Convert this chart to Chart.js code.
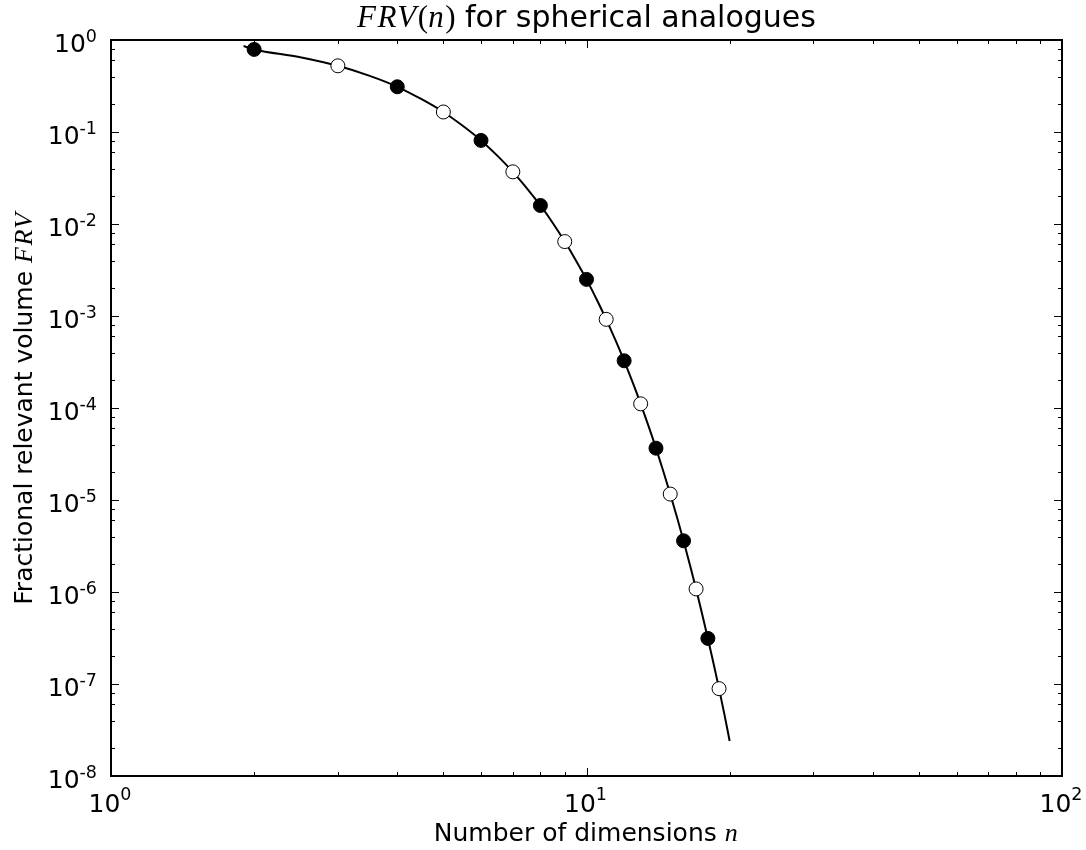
<!DOCTYPE html>
<html>
<head>
<meta charset="utf-8">
<script src="https://cdn.jsdelivr.net/npm/chart.js@4.4.1/dist/chart.umd.min.js"></script>
<style>
  html, body { margin: 0; padding: 0; background: #ffffff; }
  #wrap { width: 1086px; height: 850px; }
</style>
</head>
<body>
<div id="wrap"><canvas id="c" width="1086" height="850"></canvas></div>
<script>
// ---- data ----
const nEven = [2, 4, 6, 8, 10, 12, 14, 16, 18];
const frvEven = [0.79, 0.31, 0.081, 0.0159, 0.0025, 0.000326, 3.66e-5, 3.6e-6, 3.13e-7];

const nOdd = [3, 5, 7, 9, 11, 13, 15, 17, 19];
const frvOdd = [0.524, 0.165, 0.0369, 0.00644, 0.00092, 0.000111, 1.16e-5, 1.08e-6, 8.9e-8];

const nCurve = [1.9, 2, 2.5, 3, 3.5, 4, 4.5, 5, 5.5, 6, 6.5, 7, 7.5, 8, 8.5, 9, 9.5, 10,
                10.5, 11, 11.5, 12, 12.5, 13, 13.5, 14, 14.5, 15, 15.5, 16, 16.5, 17,
                17.5, 18, 18.5, 19, 19.5, 20];
const frvCurve = [0.86, 0.79, 0.651, 0.524, 0.407, 0.31, 0.227, 0.165, 0.116, 0.081,
                  0.055, 0.0369, 0.0243, 0.0159, 0.0102, 0.00644, 0.00402, 0.0025,
                  0.00152, 0.00092, 0.000549, 0.000326, 0.000191, 0.000111, 6.39e-5,
                  3.66e-5, 2.07e-5, 1.16e-5, 6.48e-6, 3.6e-6, 1.97e-6, 1.08e-6,
                  5.81e-7, 3.13e-7, 1.67e-7, 8.9e-8, 4.68e-8, 2.4e-8];

const xTickExps = [0, 1, 2];
const yTickExps = [0, -1, -2, -3, -4, -5, -6, -7, -8];
const xMinorSubs = [2, 3, 4, 5, 6, 7, 8, 9];
const yMinorSubs = [2, 4, 6, 8];

const titleParts = [
  { t: 'FRV', math: true },
  { t: '(', math: false, serif: true },
  { t: 'n', math: true },
  { t: ')', math: false, serif: true },
  { t: ' for spherical analogues', math: false }
];
const xLabelParts = [{ t: 'Number of dimensions ', math: false }, { t: 'n', math: true }];
const yLabelParts = [{ t: 'Fractional relevant volume ', math: false }, { t: 'FRV', math: true }];

// ---- helpers ----
const SANS = '"DejaVu Sans", "Bitstream Vera Sans", sans-serif';
const SERIF = '"Liberation Serif", "DejaVu Serif", serif';

function partFont(p, size) {
  if (p.math) return 'italic ' + Math.round(size * 1.04) + 'px ' + SERIF;
  if (p.serif) return Math.round(size * 1.04) + 'px ' + SERIF;
  return size + 'px ' + SANS;
}
function measureParts(ctx, parts, size) {
  let w = 0;
  for (const p of parts) {
    ctx.font = partFont(p, size);
    ctx.letterSpacing = p.math ? '1.5px' : '0px';
    w += ctx.measureText(p.t).width;
  }
  ctx.letterSpacing = '0px';
  return w;
}
function drawParts(ctx, parts, size, cx, baseline) {
  const total = measureParts(ctx, parts, size);
  let x = cx - total / 2;
  ctx.textAlign = 'left';
  ctx.textBaseline = 'alphabetic';
  for (const p of parts) {
    ctx.font = partFont(p, size);
    ctx.letterSpacing = p.math ? '1.5px' : '0px';
    ctx.fillText(p.t, x, baseline);
    x += ctx.measureText(p.t).width;
  }
  ctx.letterSpacing = '0px';
}
function supText(e) { return String(e); }

const framePlugin = {
  id: 'mplFrame',
  afterDatasetsDraw(chart) {
    const ctx = chart.ctx;
    const xs = chart.scales.x, ys = chart.scales.y;
    const a = chart.chartArea;
    ctx.save();
    ctx.strokeStyle = '#000';
    // ticks (inside, all four sides)
    ctx.lineWidth = 1;
    const majorLen = 8, minorLen = 4;
    ctx.beginPath();
    const xDecades = xTickExps.slice(0, -1);
    for (const e of xTickExps) {
      const px = Math.round(xs.getPixelForValue(Math.pow(10, e))) + 0.5;
      ctx.moveTo(px, a.bottom); ctx.lineTo(px, a.bottom - majorLen);
      ctx.moveTo(px, a.top); ctx.lineTo(px, a.top + majorLen);
    }
    for (const e of xDecades) {
      for (const s of xMinorSubs) {
        const px = Math.round(xs.getPixelForValue(s * Math.pow(10, e))) + 0.5;
        ctx.moveTo(px, a.bottom); ctx.lineTo(px, a.bottom - minorLen);
        ctx.moveTo(px, a.top); ctx.lineTo(px, a.top + minorLen);
      }
    }
    for (const e of yTickExps) {
      const py = Math.round(ys.getPixelForValue(Math.pow(10, e))) + 0.5;
      ctx.moveTo(a.left, py); ctx.lineTo(a.left + majorLen, py);
      ctx.moveTo(a.right, py); ctx.lineTo(a.right - majorLen, py);
    }
    for (const e of yTickExps.slice(1)) {
      for (const s of yMinorSubs) {
        const py = Math.round(ys.getPixelForValue(s * Math.pow(10, e))) + 0.5;
        ctx.moveTo(a.left, py); ctx.lineTo(a.left + minorLen, py);
        ctx.moveTo(a.right, py); ctx.lineTo(a.right - minorLen, py);
      }
    }
    ctx.stroke();
    // frame
    ctx.lineWidth = 2;
    ctx.strokeRect(a.left, a.top, a.right - a.left, a.bottom - a.top);

    // tick labels
    ctx.fillStyle = '#000';
    const mainSize = 25, supSize = 17.5;
    ctx.textBaseline = 'alphabetic';
    ctx.textAlign = 'left';
    for (const e of yTickExps) {
      const py = ys.getPixelForValue(Math.pow(10, e));
      ctx.font = mainSize + 'px ' + SANS;
      const w10 = ctx.measureText('10').width;
      ctx.font = supSize + 'px ' + SANS;
      const ws = ctx.measureText(supText(e)).width;
      const right = a.left - 14;
      ctx.font = mainSize + 'px ' + SANS;
      ctx.fillText('10', right - ws - w10, py + 12);
      ctx.font = supSize + 'px ' + SANS;
      ctx.fillText(supText(e), right - ws, py + 2);
    }
    for (const e of xTickExps) {
      const px = xs.getPixelForValue(Math.pow(10, e));
      ctx.font = mainSize + 'px ' + SANS;
      const w10 = ctx.measureText('10').width;
      ctx.font = supSize + 'px ' + SANS;
      const ws = ctx.measureText(supText(e)).width;
      const left = px - (w10 + ws) / 2 - 1;
      ctx.font = mainSize + 'px ' + SANS;
      ctx.fillText('10', left, a.bottom + 36);
      ctx.font = supSize + 'px ' + SANS;
      ctx.fillText(supText(e), left + w10, a.bottom + 24);
    }

    // title
    const cx = (a.left + a.right) / 2;
    drawParts(ctx, titleParts, 30, cx, 27);
    // x label
    drawParts(ctx, xLabelParts, 25, cx, a.bottom + 65);
    // y label
    ctx.save();
    ctx.translate(32, (a.top + a.bottom) / 2);
    ctx.rotate(-Math.PI / 2);
    drawParts(ctx, yLabelParts, 25, 0, 0);
    ctx.restore();
    ctx.restore();
  }
};

function pts(xsArr, ysArr) { return xsArr.map((v, i) => ({ x: v, y: ysArr[i] })); }

new Chart(document.getElementById('c'), {
  type: 'line',
  data: {
    datasets: [
      {
        label: 'curve',
        data: pts(nCurve, frvCurve),
        borderColor: '#000',
        borderWidth: 2,
        pointRadius: 0,
        fill: false,
        cubicInterpolationMode: 'monotone',
        order: 3
      },
      {
        label: 'even n',
        data: pts(nEven, frvEven),
        showLine: false,
        pointRadius: 7,
        pointBackgroundColor: '#000',
        pointBorderColor: '#000',
        pointBorderWidth: 1,
        order: 1
      },
      {
        label: 'odd n',
        data: pts(nOdd, frvOdd),
        showLine: false,
        pointRadius: 7,
        pointBackgroundColor: '#fff',
        pointBorderColor: '#000',
        pointBorderWidth: 1,
        order: 1
      }
    ]
  },
  options: {
    responsive: false,
    animation: false,
    events: [],
    layout: { padding: { left: 103, top: 40, right: 24, bottom: 66 } },
    plugins: { legend: { display: false }, title: { display: false }, tooltip: { enabled: false } },
    scales: {
      x: {
        type: 'logarithmic', min: 1, max: 100,
        grid: { display: false }, border: { display: false },
        ticks: { display: false }, title: { display: false }
      },
      y: {
        type: 'logarithmic', min: 1e-8, max: 1,
        grid: { display: false }, border: { display: false },
        ticks: { display: false }, title: { display: false }
      }
    }
  },
  plugins: [framePlugin]
});
</script>
</body>
</html>
